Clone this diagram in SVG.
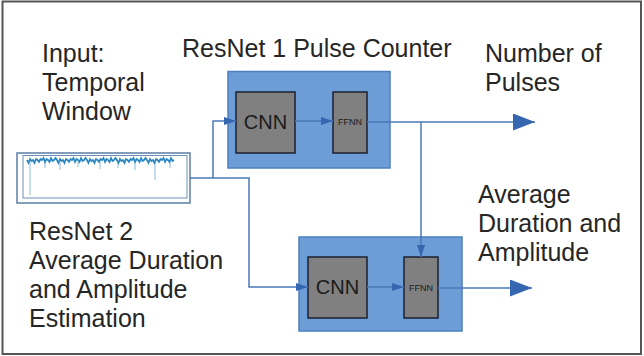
<svg xmlns="http://www.w3.org/2000/svg" width="644" height="356" viewBox="0 0 644 356">
  <style>
    .lbl { font-family: "Liberation Sans", Arial, sans-serif; font-size: 25px; fill: #262626; }
    .cnn { font-family: "Liberation Sans", Arial, sans-serif; font-size: 20px; fill: #1a1a1a; text-anchor: middle; }
    .ffnn { font-family: "Liberation Sans", Arial, sans-serif; font-size: 9px; fill: #1a1a1a; text-anchor: middle; }
    .resnet { fill: #6c9dd7; stroke: #4e7fbf; stroke-width: 1.5; }
    .layer { fill: #808080; stroke: #1c2030; stroke-width: 1.5; }
    .wire { fill: none; stroke: #4a78b8; stroke-width: 1.5; }
  </style>
  <defs>
    <marker id="small" viewBox="0 0 12 8" refX="12" refY="4" markerWidth="12" markerHeight="8" markerUnits="userSpaceOnUse" orient="auto">
      <path d="M0 0 L12 4 L0 8 Z" fill="#3566b0"/>
    </marker>
    <marker id="big" viewBox="0 0 22 17" refX="22" refY="8.5" markerWidth="22" markerHeight="17" markerUnits="userSpaceOnUse" orient="auto">
      <path d="M0 0 L22 8.5 L0 17 Z" fill="#3566b0"/>
    </marker>
  </defs>

  <rect width="644" height="356" fill="#ffffff"/>
  <rect x="2.5" y="1.5" width="638.5" height="352.5" fill="none" stroke="#555" stroke-width="2"/>

  <!-- text labels -->
  <g id="labels">
    <text class="lbl" x="42" y="62">Input:</text>
    <text class="lbl" x="42" y="91">Temporal</text>
    <text class="lbl" x="42" y="120">Window</text>
    <text class="lbl" x="182" y="57">ResNet 1 Pulse Counter</text>
    <text class="lbl" x="485" y="62">Number of</text>
    <text class="lbl" x="485" y="91">Pulses</text>
    <text class="lbl" x="478" y="203">Average</text>
    <text class="lbl" x="478" y="232">Duration and</text>
    <text class="lbl" x="478" y="261">Amplitude</text>
    <text class="lbl" x="29" y="240">ResNet 2</text>
    <text class="lbl" x="29" y="269">Average Duration</text>
    <text class="lbl" x="29" y="298">and Amplitude</text>
    <text class="lbl" x="29" y="327">Estimation</text>
  </g>

  <!-- input window with signal trace -->
  <g id="input">
    <rect x="17" y="153" width="173" height="50" fill="#fff" stroke="#5b7fa8" stroke-width="1.5"/>
    <rect x="23" y="155.5" width="164" height="42.5" fill="#fff" stroke="#6d8fb5" stroke-width="1"/>
    <g stroke="#8dbbe0" stroke-width="1">
      <line x1="30" y1="162" x2="30" y2="195"/>
      <line x1="155" y1="162" x2="155" y2="180"/>
      <line x1="45" y1="162" x2="45" y2="168"/>
      <line x1="60" y1="162" x2="60" y2="170"/>
      <line x1="78" y1="162" x2="78" y2="167"/>
      <line x1="100" y1="162" x2="100" y2="169"/>
      <line x1="118" y1="162" x2="118" y2="168"/>
      <line x1="135" y1="162" x2="135" y2="170"/>
      <line x1="170" y1="162" x2="170" y2="168"/>
    </g>
    <path fill="none" stroke="#2b87c2" stroke-width="1.7" d="M27 160
      l1.5 3 l1.5 -4 l1.5 2 l1.5 -1 l1.5 3 l1.5 -4 l1.5 1 l1.5 2 l1.5 -3 l1.5 1
      l1.5 -2 l1.5 4 l1.5 -3 l1.5 1 l1.5 2 l1.5 -4 l1.5 3 l1.5 -1 l1.5 -2 l1.5 2
      l1.5 3 l1.5 -4 l1.5 2 l1.5 -1 l1.5 3 l1.5 -4 l1.5 1 l1.5 2 l1.5 -3 l1.5 1
      l1.5 -2 l1.5 4 l1.5 -3 l1.5 1 l1.5 2 l1.5 -4 l1.5 3 l1.5 -1 l1.5 -2 l1.5 2
      l1.5 3 l1.5 -4 l1.5 2 l1.5 -1 l1.5 3 l1.5 -4 l1.5 1 l1.5 2 l1.5 -3 l1.5 1
      l1.5 -2 l1.5 4 l1.5 -3 l1.5 1 l1.5 2 l1.5 -4 l1.5 3 l1.5 -1 l1.5 -2 l1.5 2
      l1.5 3 l1.5 -4 l1.5 2 l1.5 -1 l1.5 3 l1.5 -4 l1.5 1 l1.5 2 l1.5 -3 l1.5 1
      l1.5 -2 l1.5 4 l1.5 -3 l1.5 1 l1.5 2 l1.5 -4 l1.5 3 l1.5 -1 l1.5 -2 l1.5 2
      l1.5 3 l1.5 -4 l1.5 2 l1.5 -1 l1.5 3 l1.5 -4 l1.5 1 l1.5 2 l1.5 -3 l1.5 1
      l1.5 -2 l1.5 4 l1.5 -3 l1.5 1 l1.5 2 l1.5 -4 l1.5 3 l1.5 -1"/>
  </g>

  <!-- ResNet 1 -->
  <g id="resnet1">
    <rect class="resnet" x="228" y="71.5" width="162" height="96.5"/>
    <g id="cnn1">
      <rect class="layer" x="236" y="92" width="59" height="61"/>
      <text class="cnn" x="265.5" y="129">CNN</text>
    </g>
    <g id="ffnn1">
      <rect class="layer" x="333" y="92" width="34" height="61"/>
      <text class="ffnn" x="350" y="125">FFNN</text>
    </g>
  </g>

  <!-- ResNet 2 -->
  <g id="resnet2">
    <rect class="resnet" x="299" y="237" width="163" height="94"/>
    <g id="cnn2">
      <rect class="layer" x="308" y="257" width="59" height="61"/>
      <text class="cnn" x="337.5" y="294">CNN</text>
    </g>
    <g id="ffnn2">
      <rect class="layer" x="404" y="257" width="34" height="61"/>
      <text class="ffnn" x="421" y="291">FFNN</text>
    </g>
  </g>

  <!-- connectors -->
  <g id="connectors">
    <path class="wire" d="M190 178 H249 V287 H308" marker-end="url(#small)"/>
    <path class="wire" d="M213 178 V121 H236" marker-end="url(#small)"/>
    <path class="wire" d="M295 121 H333" marker-end="url(#small)"/>
    <path class="wire" d="M367 122 H535" marker-end="url(#big)"/>
    <path class="wire" d="M421 122 V257" marker-end="url(#small)"/>
    <path class="wire" d="M367 287 H404" marker-end="url(#small)"/>
    <path class="wire" d="M438 288 H532" marker-end="url(#big)"/>
  </g>
</svg>
